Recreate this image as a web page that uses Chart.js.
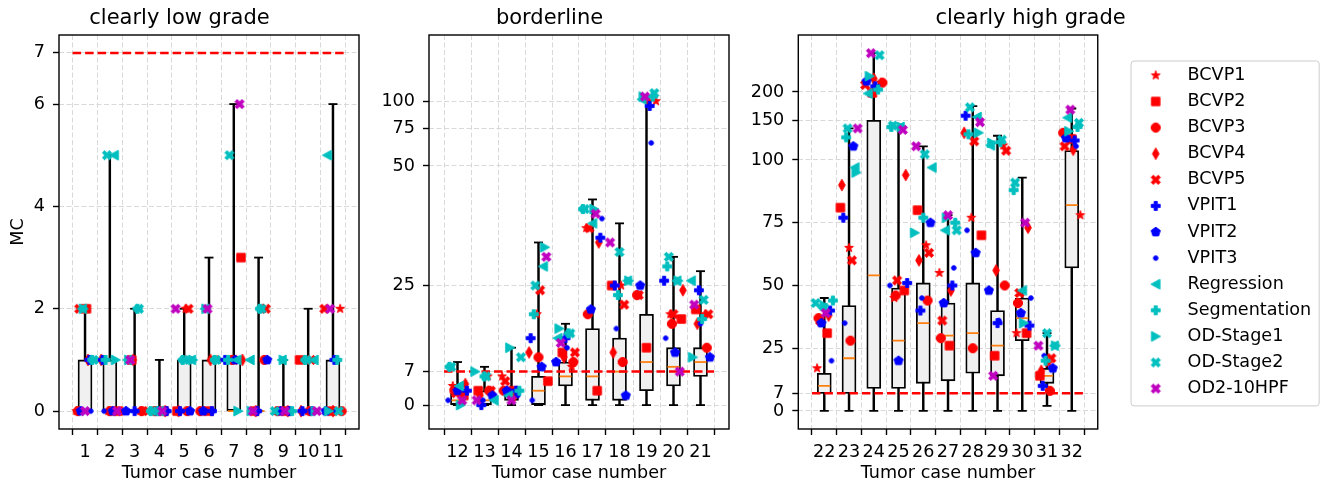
<!DOCTYPE html>
<html>
<head>
<meta charset="utf-8">
<script src="https://cdn.jsdelivr.net/npm/chart.js@4.4.0/dist/chart.umd.min.js"></script>
<style>
    html, body { margin: 0; padding: 0; background: #fff; }
    #wrap { position: relative; width: 1327px; height: 484px; overflow: hidden; }
    canvas { position: absolute; top: 0; }
</style>
</head>
<body>
<div id="wrap">
    <canvas id="lowChart" width="370" height="484" style="left:0px"></canvas>
    <canvas id="borderChart" width="370" height="484" style="left:370px"></canvas>
    <canvas id="highChart" width="587" height="484" style="left:740px"></canvas>
</div>
<script>
const SERIES = ["BCVP1", "BCVP2", "BCVP3", "BCVP4", "BCVP5", "VPIT1", "VPIT2", "VPIT3",
    "Regression", "Segmentation", "OD-Stage1", "OD-Stage2", "OD2-10HPF"];
const SERIES_COLORS = ["#ff0000", "#ff0000", "#ff0000", "#ff0000", "#ff0000", "#0000ff", "#0000ff", "#0000ff",
    "#00bfbf", "#00bfbf", "#00bfbf", "#00bfbf", "#bf00bf"];
const SERIES_MARKERS = ["star", "square", "circle", "thinDiamond", "x", "plus", "pentagon", "point",
    "triLeft", "plus", "triRight", "x", "x"];

const CASES = [1, 2, 3, 4, 5, 6, 7, 8, 9, 10, 11, 12, 13, 14, 15, 16, 17, 18, 19, 20, 21, 22, 23, 24, 25, 26, 27, 28, 29, 30, 31, 32];

// MC per tumor case, one array per method
const BCVP1 = [0, 0, 0, 0, 2, 1, 1, 2, 0, 0, 2, 4, 6, 6, 19, 8, 37, 25, 100, 19, 19, 17, 65, 220, 45, 66, 55, 77, 116, 31, 19, 78];
const BCVP2 = [2, 0, 1, 0, 0, 0, 3, 0, 0, 1, 0, 2, 3, 3, 5, 11, 3, 25, 12, 18, 20, 31, 81, 198, 48, 80, 26, 70, 22, 31, 14, 124];
const BCVP3 = [0, 0, 0, 0, 0, 0, 1, 1, 0, 0, 0, 3, 3, 3, 10, 9, 19, 9, 23, 17, 12, 37, 28, 220, 46, 44, 29, 25, 50, 43, 8, 132];
const BCVP4 = [1, 1, 1, 0, 0, 1, 1, 0, 0, 0, 0, 4.4, 2, 2, 11, 10, 34, 11, 100, 24, 17, 38, 90, 229, 94, 60, 48, 132, 56, 73, 16, 111];
const BCVP5 = [2, 0, 0, 0, 2, 0, 1, 2, 0, 1, 2, 2.5, 3, 5, 24, 11, 37, 21, 23, 19, 19, 36, 60, 215, 52, 63, 36, 121, 110, 47, 21, 115];
const VPIT1 = [1, 1, 0, 0, 0, 0, 1, 0, 0, 0, 1, 3, 0, 3, 14, 14, 35, 25, 95, 26, 24, 40, 77, 212, 51, 40, 50, 157, 35, 34, 10, 122];
const VPIT2 = [0, 0, 0, 0, 0, 0, 1, 1, 0, 0, 0, 3, 2, 3, 8, 9, 20, 2, 25, 11, 10, 35, 115, 223, 20, 75, 43, 63, 48, 39, 17, 125];
const VPIT3 = [0, 0, 0, 0, 0, 0, 1, 0, 0, 0, 0, 1, 1, 2, 1, 12, 39, 16, 64, 14, 17, 20, 35, 210, 50, 45, 57, 72, 36, 45, 22, 115];
const REGRESSION = [2, 5, 1, 0, 1, 2, 1, 1, 1, 1, 5, 4, 1, 2, 29, 14, 38, 26, 102, 26, 26, 41, 97, 197, 140, 97, 72, 155, 116, 48, 26, 154];
const SEGMENTATION = [1, 1, 2, 0, 1, 1, 1, 2, 0, 1, 1, 8, 6, 3, 19, 15, 41, 23, 105, 29, 18, 44, 126, 205, 140, 77, 75, 130, 120, 88, 20, 140];
const OD_STAGE1 = [2, 1, 1, 0, 1, 2, 0, 0, 1, 0, 0, 0, 7, 12, 33, 16, 41, 26, 105, 26, 10, 42, 95, 235, 140, 71, 77, 132, 119, 35, 26, 134];
const OD_STAGE2 = [1, 5, 2, 0, 1, 1, 5, 2, 0, 1, 0, 8, 6, 10, 25, 15, 41, 32, 109, 31, 22, 43, 138, 291, 142, 106, 72, 171, 123, 91, 31, 146];
const OD2_10HPF = [0, 0, 1, 0, 2, 2, 6, 0, 0, 0, 2, 1, 1, 1, 31, 13, 40, 34, 105, 7, 21, 39, 138, 297, 136, 115, 78, 147, 14, 75, 26, 167];
const SERIES_VALUES = [BCVP1, BCVP2, BCVP3, BCVP4, BCVP5, VPIT1, VPIT2, VPIT3,
    REGRESSION, SEGMENTATION, OD_STAGE1, OD_STAGE2, OD2_10HPF];

// box plot statistics per case
const BOX_Q1 = [0, 0, 0, 0, 0, 0, 0, 0, 0, 0, 0, 0, 0, 1, 0, 4, 1, 1, 3, 4, 6, 7, 7, 9, 9, 11, 12, 15, 14, 28, 11, 57];
const BOX_MED = [0, 0, 0, 0, 0, 0, 0, 0, 0, 0, 0, 1, 1, 2, 3, 6, 6, 7, 9, 8, 9, 10, 21, 54, 28, 35, 30, 31, 26, 37, 14, 82];
const BOX_Q3 = [1, 1, 0, 0, 1, 1, 1, 0, 0, 0, 1, 2.5, 3, 3, 6, 9, 16, 14, 19, 12, 12, 15, 42, 150, 49, 51, 43, 51, 40, 45, 17, 110];
const WHISK_LO = [0, 0, 0, 0, 0, 0, 0, 0, 0, 0, 0, 0, 0, 0, 0, 0, 0, 0, 0, 0, 0, 0, 0, 0, 0, 0, 0, 0, 0, 0, 2, 0];
const WHISK_HI = [2, 5, 2, 1, 2, 3, 6, 3, 1, 2, 6, 9, 8, 12, 34, 17, 43, 38, 105, 31, 28, 45, 138, 297, 140, 115, 78, 173, 128, 93, 31, 169];

const TICKS_LOW = [0, 2, 4, 6, 7];
const TICKS_BORDER = [0, 7, 25, 50, 75, 100];
const TICKS_HIGH = [0, 7, 25, 50, 75, 100, 150, 200];
const THRESHOLD = 7;

Chart.defaults.font.family = "'DejaVu Sans', sans-serif";
Chart.defaults.color = "#000";

// linear up to linthresh, log10 above (like matplotlib symlog)
class SymlogScale extends Chart.LinearScale {
    fwd(v) {
        const t = this.options.linthresh;
        return v <= t ? v : t * (1 + 0.9 * Math.log10(v / t));
    }
    inv(g) {
        const t = this.options.linthresh;
        return g <= t ? g : t * Math.pow(10, (g / t - 1) / 0.9);
    }
    buildTicks() {
        return this.options.tickValues.map((v) => ({ value: v }));
    }
    getPixelForValue(value) {
        const a = this.fwd(this.min);
        const b = this.fwd(this.max);
        return this.getPixelForDecimal((this.fwd(value) - a) / (b - a));
    }
    getValueForPixel(pixel) {
        const a = this.fwd(this.min);
        const b = this.fwd(this.max);
        return this.inv(a + this.getDecimalForPixel(pixel) * (b - a));
    }
}
SymlogScale.id = "symlog";
SymlogScale.defaults = {};
Chart.register(SymlogScale);

function makeMarker(shape, color) {
    const c = document.createElement("canvas");
    c.width = 16;
    c.height = 16;
    const g = c.getContext("2d");
    g.translate(8, 8);
    g.fillStyle = color;
    g.strokeStyle = color;
    g.lineWidth = 1;
    g.lineJoin = "round";
    g.beginPath();
    const poly = (pts) => {
        pts.forEach(([x, y], i) => (i ? g.lineTo(x, y) : g.moveTo(x, y)));
        g.closePath();
    };
    const plusPts = (L, w) => [[-w, -L], [w, -L], [w, -w], [L, -w], [L, w], [w, w], [w, L], [-w, L], [-w, w], [-L, w], [-L, -w], [-w, -w]];
    if (shape === "star") {
        const pts = [];
        for (let i = 0; i < 10; i++) {
            const r = i % 2 ? 1.8 : 4.6;
            const a = -Math.PI / 2 + i * Math.PI / 5;
            pts.push([r * Math.cos(a), r * Math.sin(a)]);
        }
        poly(pts);
    } else if (shape === "square") {
        g.rect(-4.2, -4.2, 8.4, 8.4);
    } else if (shape === "circle") {
        g.arc(0, 0, 4.6, 0, Math.PI * 2);
    } else if (shape === "thinDiamond") {
        poly([[0, -5.8], [3.3, 0], [0, 5.8], [-3.3, 0]]);
    } else if (shape === "plus") {
        poly(plusPts(4.4, 1.6));
    } else if (shape === "x") {
        poly(plusPts(5.0, 1.6).map(([x, y]) => [(x - y) / Math.SQRT2, (x + y) / Math.SQRT2]));
    } else if (shape === "pentagon") {
        const pts = [];
        for (let i = 0; i < 5; i++) {
            const a = -Math.PI / 2 + i * 2 * Math.PI / 5;
            pts.push([4.8 * Math.cos(a), 4.8 * Math.sin(a)]);
        }
        poly(pts);
    } else if (shape === "point") {
        g.arc(0, 0, 2.3, 0, Math.PI * 2);
    } else if (shape === "triLeft") {
        poly([[-4.8, 0], [4.2, -4.9], [4.2, 4.9]]);
    } else if (shape === "triRight") {
        poly([[4.8, 0], [-4.2, -4.9], [-4.2, 4.9]]);
    }
    g.fill();
    g.stroke();
    return c;
}

const markers = SERIES.map((_, s) => makeMarker(SERIES_MARKERS[s], SERIES_COLORS[s]));

// fixed horizontal spread of the points around each case
function jitter(s, i) {
    return (((s * 7 + i * 5) % 13) - 6) * 0.058;
}

const framePlugin = {
    id: "frame",
    beforeDatasetsDraw(chart) {
        const { ctx, chartArea: a } = chart;
        ctx.save();
        ctx.strokeStyle = "#000";
        ctx.lineWidth = 1.4;
        ctx.strokeRect(a.left, a.top, a.right - a.left, a.bottom - a.top);
        ctx.restore();
    },
};

const legendFramePlugin = {
    id: "legendFrame",
    afterDraw(chart) {
        const boxes = chart.legend && chart.legend.legendHitBoxes;
        if (!boxes || !boxes.length) return;
        const ctx = chart.ctx;
        const first = boxes[0];
        const last = boxes[boxes.length - 1];
        const w = Math.max(...boxes.map((b) => b.width));
        const x0 = first.left - 1.7;
        const y0 = first.top - 5.6;
        const x1 = first.left + w + 8;
        const y1 = last.top + last.height + 8.5;
        ctx.save();
        ctx.strokeStyle = "#cccccc";
        ctx.lineWidth = 1;
        ctx.beginPath();
        ctx.roundRect(x0, y0, x1 - x0, y1 - y0, 3);
        ctx.stroke();
        ctx.restore();
    },
};

const gridOpts = {
    color: "#d9d9d9",
    lineWidth: 1,
    tickColor: "#000",
    tickLength: 6,
    tickWidth: 1.4,
    tickBorderDash: [],
};

function buildPanel(canvasId, title, first, last, yScale, withLegend) {
    const idx = [];
    for (let i = first; i <= last; i++) idx.push(i);
    const cases = idx.map((i) => CASES[i]);
    const xMin = cases[0] - 0.5;
    const xMax = cases[cases.length - 1] + 0.5;

    const datasets = SERIES.map((name, s) => ({
        type: "scatter",
        label: name,
        data: idx.map((i) => ({ x: CASES[i] + jitter(s, i), y: SERIES_VALUES[s][i] })),
        pointStyle: markers[s],
        pointRadius: 5,
        backgroundColor: SERIES_COLORS[s],
        borderColor: SERIES_COLORS[s],
        order: SERIES.length - 1 - s,
    }));

    datasets.push({
        type: "line",
        label: "threshold",
        data: [{ x: xMin, y: THRESHOLD }, { x: xMax, y: THRESHOLD }],
        borderColor: "#ff0000",
        borderWidth: 2.5,
        borderDash: [8.5, 4],
        pointRadius: 0,
        order: 20,
    });
    datasets.push({
        type: "scatter",
        label: "median",
        data: idx.map((i) => ({ x: CASES[i], y: BOX_MED[i] })),
        pointStyle: "line",
        pointRadius: 6,
        pointBorderColor: "#ff7f0e",
        pointBorderWidth: 1.8,
        order: 21,
    });
    datasets.push({
        type: "bar",
        label: "box",
        data: idx.map((i) => ({ x: CASES[i], y: [BOX_Q1[i], BOX_Q3[i]] })),
        backgroundColor: "#f0f0f0",
        borderColor: "#000",
        borderWidth: 1.8,
        borderSkipped: false,
        barThickness: 14,
        grouped: false,
        order: 22,
    });
    datasets.push({
        type: "scatter",
        label: "caps",
        data: idx.flatMap((i) => [{ x: CASES[i], y: WHISK_LO[i] }, { x: CASES[i], y: WHISK_HI[i] }]),
        pointStyle: "line",
        pointRadius: 4.5,
        pointBorderColor: "#000",
        pointBorderWidth: 1.8,
        order: 23,
    });
    datasets.push({
        type: "bar",
        label: "whisker",
        data: idx.map((i) => ({ x: CASES[i], y: [WHISK_LO[i], WHISK_HI[i]] })),
        backgroundColor: "#000",
        borderWidth: 0,
        barThickness: 1.8,
        grouped: false,
        order: 24,
    });

    const scales = {
        x: {
            type: "linear",
            min: xMin,
            max: xMax,
            afterBuildTicks: (axis) => {
                axis.ticks = cases.map((v) => ({ value: v }));
            },
            afterFit: (axis) => {
                axis.height = 55;
            },
            grid: gridOpts,
            border: { display: false, dash: [5, 2.5] },
            ticks: { font: { size: 17.6 }, padding: 7, autoSkip: false, maxRotation: 0, callback: (v) => String(v) },
            title: { display: true, text: "Tumor case number", font: { size: 17.6 }, padding: { top: 0, bottom: 0 } },
        },
        y: Object.assign({
            afterFit: (axis) => {
                axis.width = yScale.width;
            },
            grid: gridOpts,
            border: { display: false, dash: [5, 2.5] },
            ticks: { font: { size: 17.6 }, padding: 8, autoSkip: false, callback: (v) => String(v) },
        }, yScale.opts),
    };
    if (withLegend) {
        scales.spacer = {
            type: "linear",
            position: "right",
            display: true,
            grid: { display: false, drawTicks: false },
            border: { display: false },
            ticks: { display: false },
            afterFit: (axis) => {
                axis.width = 26.5;
            },
        };
    }

    return new Chart(document.getElementById(canvasId), {
        type: "scatter",
        data: { datasets: datasets },
        options: {
            responsive: false,
            animation: false,
            events: [],
            layout: { padding: { left: 0, right: withLegend ? 5.8 : 11, top: 0, bottom: 0 } },
            scales: scales,
            plugins: {
                title: {
                    display: true,
                    text: title,
                    font: { size: 21, weight: "normal" },
                    color: "#000",
                    padding: { top: 5.5, bottom: 4.3 },
                },
                legend: withLegend
                    ? {
                          display: true,
                          position: "right",
                          fullSize: false,
                          maxWidth: 197,
                          labels: {
                              usePointStyle: true,
                              pointStyleWidth: 46,
                              padding: 8.5,
                              color: "#000",
                              font: { size: 17.6 },
                              filter: (item) => item.datasetIndex < SERIES.length,
                              sort: (a, b) => a.datasetIndex - b.datasetIndex,
                          },
                      }
                    : { display: false },
                tooltip: { enabled: false },
            },
        },
        plugins: withLegend ? [framePlugin, legendFramePlugin] : [framePlugin],
    });
}

buildPanel("lowChart", "clearly low grade", 0, 10, {
    width: 59,
    opts: {
        type: "linear",
        min: -0.35,
        max: 7.35,
        afterBuildTicks: (axis) => {
            axis.ticks = TICKS_LOW.map((v) => ({ value: v }));
        },
        title: { display: true, text: "MC", font: { size: 17.6 }, padding: { top: 7.5, bottom: 0 } },
    },
}, false);

buildPanel("borderChart", "borderline", 11, 20, {
    width: 59,
    opts: { type: "symlog", linthresh: 50, tickValues: TICKS_BORDER, min: -5, max: 203 },
}, false);

buildPanel("highChart", "clearly high grade", 21, 31, {
    width: 58.3,
    opts: { type: "symlog", linthresh: 100, tickValues: TICKS_HIGH, min: -7.2, max: 357.6 },
}, true);
</script>
</body>
</html>
